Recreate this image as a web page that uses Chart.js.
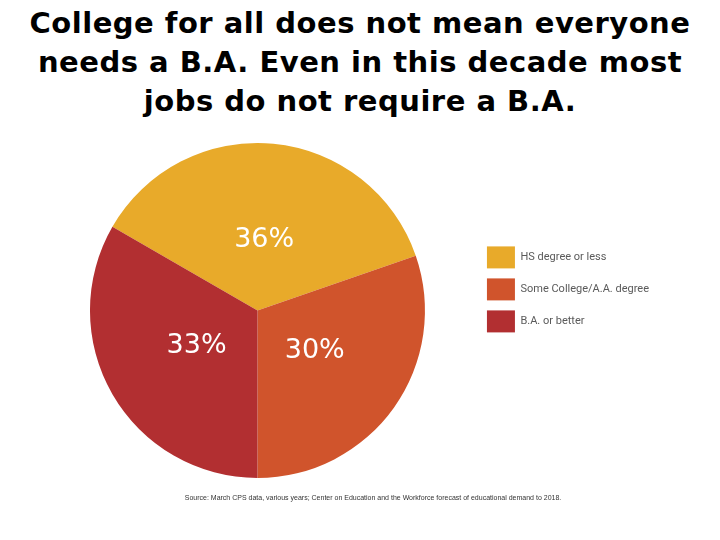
<!DOCTYPE html>
<html>
<head>
<meta charset="utf-8">
<script src="https://cdn.jsdelivr.net/npm/chart.js@4/dist/chart.umd.min.js"></script>
<style>
  html, body { margin: 0; padding: 0; background: #fff; }
  body { width: 720px; height: 540px; position: relative; overflow: hidden; }
  #title {
    position: absolute; left: 0; top: 4px; width: 720px;
    text-align: center; font-family: 'DejaVu Sans', sans-serif; font-weight: bold;
    font-size: 29px; line-height: 39px; letter-spacing: 0.5px; color: #000;
  }
  #wrap { position: absolute; left: 0; top: 125px; width: 720px; height: 370px; }
  #source {
    position: absolute; left: 0; top: 494px; width: 746px; text-align: center;
    font-family: 'Liberation Sans', sans-serif; font-size: 7px; color: #333;
  }
</style>
</head>
<body>
<div id="title">College for all does not mean everyone<br>needs a B.A. Even in this decade most<br>jobs do not require a B.A.</div>
<div id="wrap"><canvas id="chart"></canvas></div>
<div id="source">Source: March CPS data, various years; Center on Education and the Workforce forecast of educational demand to 2018.</div>
<script>
const categories = ['HS degree or less', 'Some College/A.A. degree', 'B.A. or better']
const shares = [36, 30, 33]
const colors = ['#E8AA2A', '#D0542C', '#B22F31']

// white percentage labels inside slices
const sliceLabels = {
  id: 'sliceLabels',
  afterDatasetsDraw(chart) {
    const ctx = chart.ctx
    const meta = chart.getDatasetMeta(0)
    ctx.save()
    ctx.fillStyle = '#fff'
    ctx.font = '27px "DejaVu Sans"'
    ctx.textAlign = 'center'
    ctx.textBaseline = 'middle'
    meta.data.forEach((arc, i) => {
      const p = arc.getProps(['x', 'y', 'startAngle', 'endAngle', 'outerRadius'])
      const mid = (p.startAngle + p.endAngle) / 2
      const r = p.outerRadius * 0.42
      ctx.fillText(shares[i] + '%', p.x + Math.cos(mid) * r, p.y + Math.sin(mid) * r)
    })
    ctx.restore()
  }
}

new Chart(document.getElementById('chart'), {
  type: 'pie',
  data: {
    labels: categories,
    datasets: [{
      data: shares,
      backgroundColor: colors,
      borderWidth: 0
    }]
  },
  options: {
    responsive: true,
    maintainAspectRatio: false,
    animation: false,
    rotation: -60,
    layout: { padding: { top: 18, bottom: 17, left: 38, right: 61 } },
    plugins: {
      tooltip: { enabled: false },
      legend: {
        position: 'right',
        align: 'start',
        // empty title only used to push the items down
        title: { display: true, text: '', padding: { top: 79, bottom: 0 } },
        labels: {
          boxWidth: 28,
          boxHeight: 22,
          padding: 10,
          color: '#5a5a5a',
          font: { family: 'Roboto', size: 11 }
        }
      }
    }
  },
  plugins: [sliceLabels]
})
</script>
</body>
</html>
